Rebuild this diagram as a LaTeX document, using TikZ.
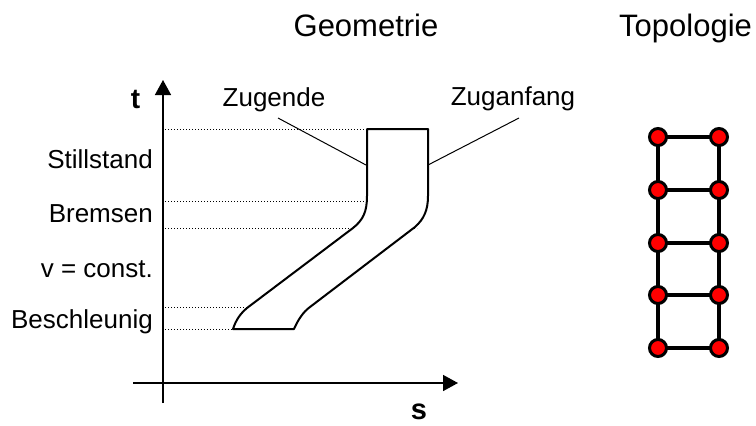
\documentclass[tikz,border=0pt]{standalone}
\usepackage{fontspec}
\setmainfont{Liberation Sans}
\usetikzlibrary{arrows.meta}
\begin{document}
\begin{tikzpicture}[x=1pt,y=-1pt,
  lbl/.style={inner sep=0pt,font=\fontsize{26}{30}\selectfont},
  ttl/.style={inner sep=0pt,font=\fontsize{31}{36}\selectfont},
  axis/.style={line width=1.6pt,-{Triangle[length=15pt,width=16pt]}},
  dots/.style={line width=1pt,dash pattern=on 1pt off 2pt},
  zug/.style={line width=2pt,line join=round},
  leader/.style={line width=1pt},
  vtx/.style={circle,draw=black,fill=red,line width=3pt,minimum size=17pt,inner sep=0pt},
  edge/.style={line width=3.5pt}]
\useasboundingbox (0,0) rectangle (756,426);
% titles
\node[ttl,anchor=base] (geo) at (366,36) {Geometrie};
\node[ttl,anchor=base west] (topo) at (619,36) {Topologie};
% axes
\coordinate (yb) at (163,403);
\coordinate (yt) at (163,80);
\coordinate (xl) at (133,383);
\coordinate (xr) at (458,383);
\draw[axis] (yb) -- (yt);
\draw[axis] (xl) -- (xr);
\node[inner sep=0pt,anchor=base,font=\fontsize{28}{32}\selectfont\bfseries] (t) at (135.5,108) {t};
\node[inner sep=0pt,anchor=base,font=\fontsize{29}{32}\selectfont\bfseries] (s) at (419,419) {s};
% phase labels
\node[lbl,anchor=base east] (still) at (153,168) {Stillstand};
\node[lbl,anchor=base east] (brems) at (153,222) {Bremsen};
\node[lbl,anchor=base east] (vconst) at (153,277) {v = const.};
\node[lbl,anchor=base east] (beschl) at (153,328) {Beschleunig};
% dotted lines
\coordinate (d1a) at (165,129); \coordinate (d1b) at (367,129);
\coordinate (d2a) at (165,201); \coordinate (d2b) at (428,201);
\coordinate (d3a) at (165,228); \coordinate (d3b) at (417,228);
\coordinate (d4a) at (165,307); \coordinate (d4b) at (308,307);
\coordinate (d5a) at (165,329); \coordinate (d5b) at (233,329);
\draw[dots] (d1a) -- (d1b);
\draw[dots] (d2a) -- (d2b);
\draw[dots] (d3a) -- (d3b);
\draw[dots] (d4a) -- (d4b);
\draw[dots] (d5a) -- (d5b);
% train shape
\draw[zug,fill=white] (367,129) -- (367,196) .. controls (367,212) and (363,220) .. (353,228)
  -- (247,308) .. controls (240,314) and (236,320) .. (233,329)
  -- (294,329) .. controls (298,320) and (303,312) .. (310,307)
  -- (415,227) .. controls (424,219) and (428,210) .. (428,196)
  -- (428,129) -- cycle;
% labels with leaders
\node[lbl,anchor=base] (zend) at (274,106) {Zugende};
\node[lbl,anchor=base] (zanf) at (513,105) {Zuganfang};
\coordinate (zendp) at (366,165);
\coordinate (zanfp) at (428,165);
\coordinate (zendl) at (278,118);
\coordinate (zanfl) at (519,118);
\draw[leader] (zendl) -- (zendp);
\draw[leader] (zanfl) -- (zanfp);
% topology
\foreach \i/\y in {1/137,2/190,3/243,4/295,5/348} {
  \coordinate (L\i) at (658,\y);
  \coordinate (R\i) at (719,\y);
}
\draw[edge] (L1) -- (L5);
\draw[edge] (R1) -- (R5);
\foreach \i in {1,...,5} { \draw[edge] (L\i) -- (R\i); }
\foreach \i in {1,...,5} {
  \node[vtx] (l\i) at (L\i) {};
  \node[vtx] (r\i) at (R\i) {};
}
\end{tikzpicture}
\end{document}
